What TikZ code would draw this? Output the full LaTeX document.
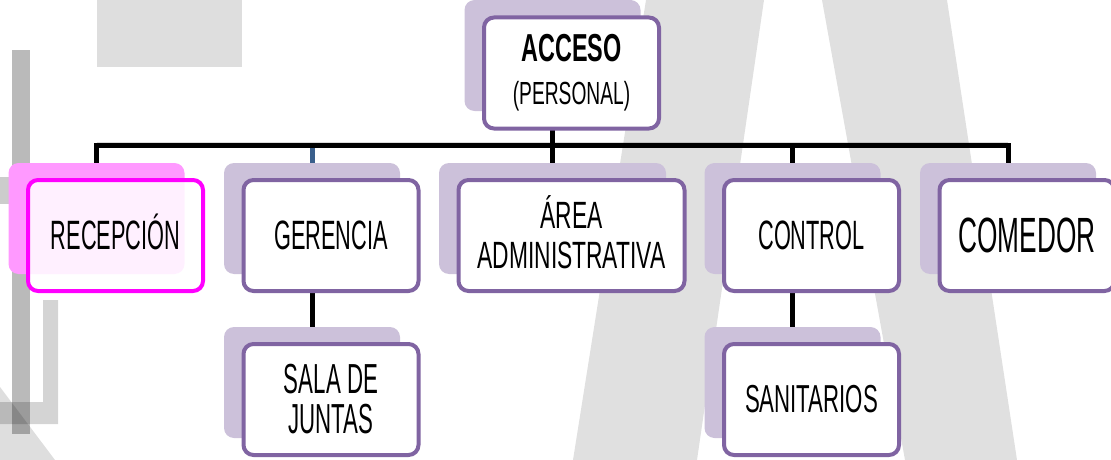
\documentclass[tikz,border=0pt]{standalone}
\usepackage{fontspec}
\newfontfamily\agency[FakeStretch=0.53]{Liberation Sans}
\newfontfamily\agencym[FakeStretch=0.57]{Liberation Sans}
\newfontfamily\agencyw[FakeStretch=0.6]{Liberation Sans}
\definecolor{boxpurple}{HTML}{8064A2}
\definecolor{shpurple}{HTML}{CCC1DA}
\definecolor{boxmag}{HTML}{FF00FF}
\definecolor{shpink}{HTML}{FF99FF}
\definecolor{dropblue}{HTML}{3A5F8C}
\pgfdeclarelayer{bgl}
\pgfdeclarelayer{linesl}
\pgfsetlayers{bgl,linesl,main}
\begin{document}
\begin{tikzpicture}[x=1pt,y=-1pt,
  bx/.style={draw=boxpurple, line width=4pt, rounded corners=10pt, fill=white,
    minimum width=175pt, minimum height=111pt, inner sep=0pt, align=center,
    font=\agency\fontsize{41}{42}\selectfont},
  sh/.style={fill=shpurple, rounded corners=10pt, minimum width=176pt,
    minimum height=111pt, inner sep=0pt},
  conn/.style={line width=5pt, black},
  connsh/.style={line width=6pt, black, opacity=0.14},
  deco/.style={fill=black}]
\useasboundingbox (0,0) rectangle (1111,460);

% shadows (offset blocks)
\node[sh] (accS) at (552.5,55.5) {};
\node[sh, fill=shpink] (recS) at (96.5,218.5) {};
\node[sh] (gerS) at (312,218.5) {};
\node[sh, minimum width=227pt] (areaS) at (552.5,218.5) {};
\node[sh] (ctlS) at (792.5,218.5) {};
\node[sh] (comS) at (1008,218.5) {};
\node[sh] (salaS) at (312,382.5) {};
\node[sh] (sanS) at (792.5,382.5) {};

% front boxes
\node[bx, font=\agencyw\fontsize{39}{43}\selectfont] (acc) at (571.5,73) {{\bfseries ACCESO}\\
  {\fontsize{32}{43}\selectfont (PERSONAL)}};
\node[bx, draw=boxmag, fill opacity=0.86, text opacity=1] (rec) at (115.5,235.5) {RECEPCI\smash{Ó}N};
\node[bx] (ger) at (331,235.5) {GERENCIA};
\node[bx, minimum width=226pt, font=\agencyw\fontsize{38}{40}\selectfont] (area) at (571.5,235.5) {\smash{Á}REA\\ADMINISTRATIVA};
\node[bx] (ctl) at (811.5,235.5) {CONTROL};
\node[bx, font=\agency\fontsize{49.5}{50}\selectfont] (com) at (1027,235.5) {COMEDOR};
\node[bx, font=\agency\fontsize{42}{40}\selectfont] (sala) at (331,399.5) {SALA DE\\JUNTAS};
\node[bx, font=\agencym\fontsize{39}{40}\selectfont] (san) at (811.5,399.5) {SANITARIOS};

\coordinate (bus) at (0,145);

\begin{pgfonlayer}{linesl}
  \begin{scope}[shift={(1,4)}]
    \draw[connsh] (recS |- bus) -- (comS |- bus);
  \end{scope}
  \draw[line width=5pt, dropblue] (gerS) -- (gerS |- bus);
  \draw[conn] (recS) -- (recS |- bus) -- (comS |- bus) -- (comS);
  \draw[conn] (accS) -- (accS |- bus);
  \draw[conn] (areaS |- bus) -- (areaS);
  \draw[conn] (ctlS |- bus) -- (ctlS);
  \draw[conn] (gerS) -- (salaS);
  \draw[conn] (ctlS) -- (sanS);
\end{pgfonlayer}

\begin{pgfonlayer}{bgl}
  \fill[deco, opacity=0.13] (97,0) rectangle (242,67);
  \fill[deco, opacity=0.12] (646,0) -- (764,0) -- (697,460) -- (573,460) -- cycle;
  \fill[deco, opacity=0.12] (822,0) -- (947,0) -- (1017,460) -- (905,460) -- cycle;
  \fill[deco, opacity=0.27] (12,50) rectangle (30,434);
  \fill[deco, opacity=0.17] (43,300) -- (58,300) -- (58,424) -- (0,424) -- (0,402) -- (43,402) -- cycle;
  \fill[deco, opacity=0.13] (0,387) -- (55,460) -- (0,460) -- cycle;
  \fill[deco, opacity=0.2] (0,177) rectangle (30,204);
\end{pgfonlayer}
\end{tikzpicture}
\end{document}
